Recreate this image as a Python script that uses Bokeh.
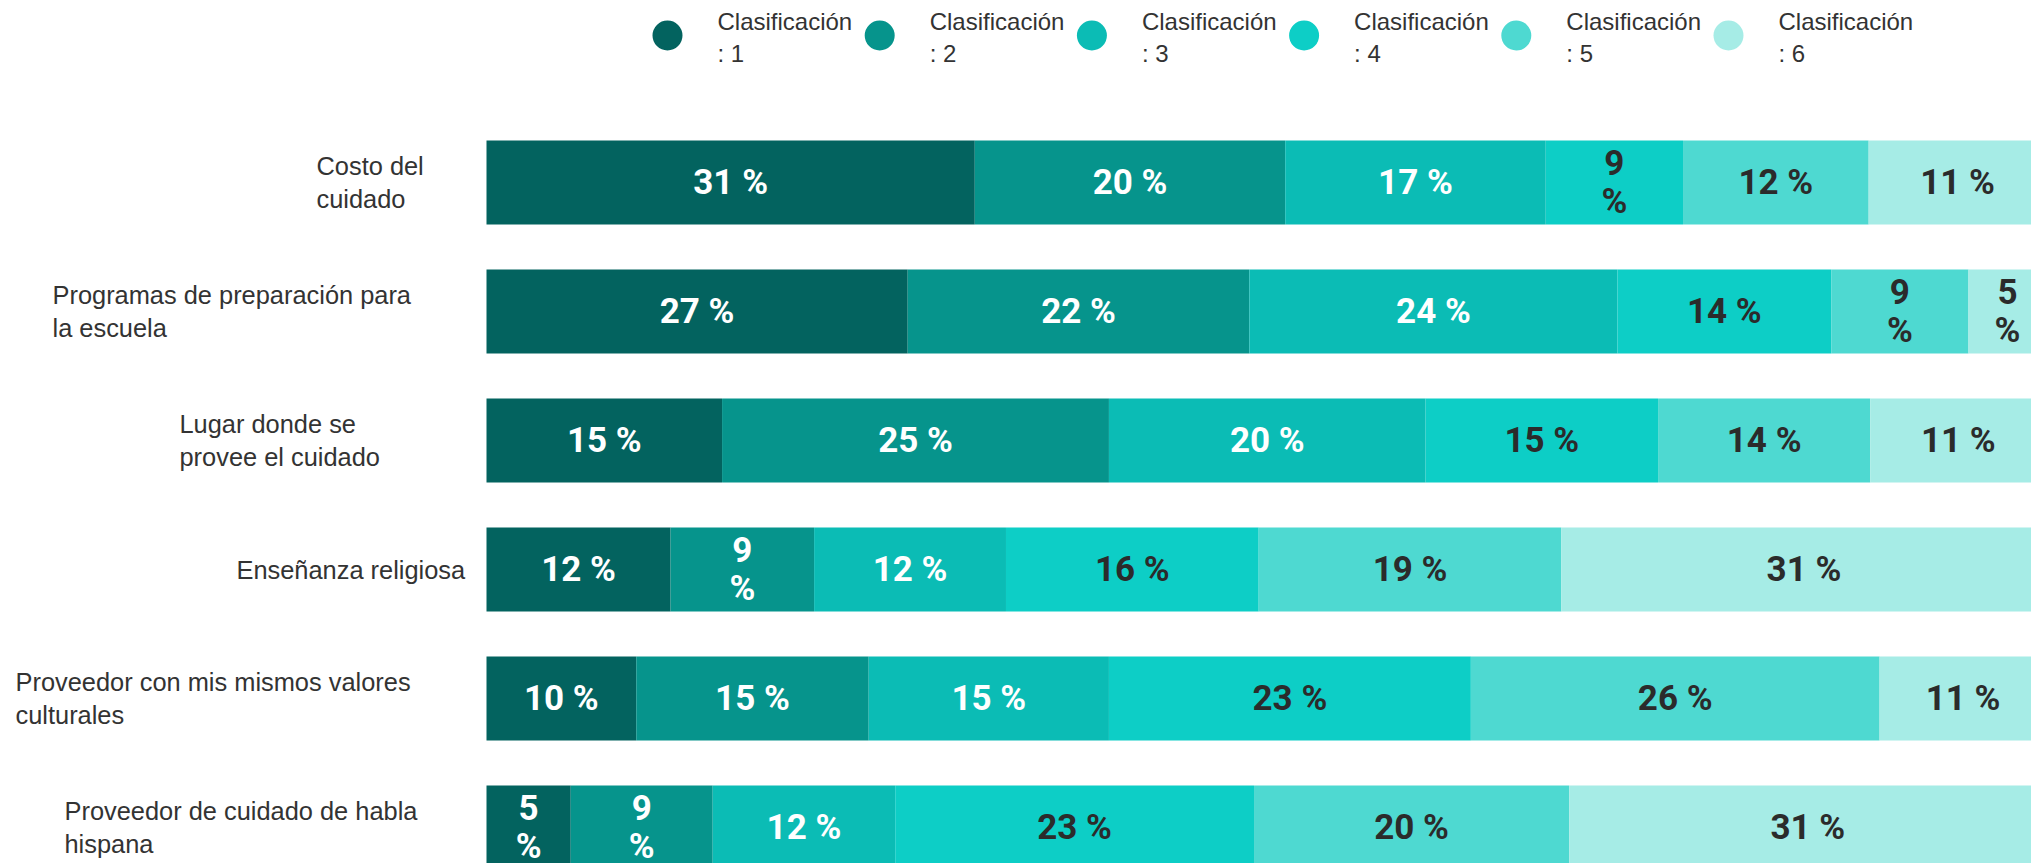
from bokeh.plotting import figure
from bokeh.models import ColumnDataSource, Range1d
from bokeh.layouts import column
from bokeh.embed import file_html
from bokeh.resources import INLINE
from bokeh.core.properties import value

# ---------------- data ----------------
categories = [
    "Costo del\ncuidado",
    "Programas de preparación para\nla escuela",
    "Lugar donde se\nprovee el cuidado",
    "Enseñanza religiosa",
    "Proveedor con mis mismos valores\nculturales",
    "Proveedor de cuidado de habla\nhispana",
]
series_names = ["Clasificación: 1", "Clasificación: 2", "Clasificación: 3",
                "Clasificación: 4", "Clasificación: 5", "Clasificación: 6"]
rank_1 = [31.3, 27.0, 15.1, 11.8, 9.6, 5.4]
rank_2 = [19.9, 21.9, 24.8, 9.2, 14.9, 9.1]
rank_3 = [16.7, 23.6, 20.3, 12.3, 15.4, 11.7]
rank_4 = [8.8, 13.7, 14.9, 16.2, 23.2, 23.0]
rank_5 = [11.9, 8.8, 13.6, 19.4, 26.2, 20.2]
rank_6 = [11.4, 5.0, 11.3, 31.1, 10.7, 30.6]

# ---------------- style / layout ----------------
colors = ["#03635F", "#06948C", "#0BBCB5", "#0DCEC6", "#4ED9D1", "#A6ECE6"]
label_colors = ["#ffffff", "#ffffff", "#ffffff", "#2b2b2b", "#2b2b2b", "#2b2b2b"]
cat_label_offsets = [-170, -434, -307, -250, -471, -422]   # screen px from bar start
W = 2031
TOTAL_H = 863
LEG_H = 108
MAIN_H = TOTAL_H - LEG_H
PX_PER_PCT = 15.6
BAR_START_PX = 486
PITCH_PX = 129
FIRST_CENTER_PX = 74

series = [rank_1, rank_2, rank_3, rank_4, rank_5, rank_6]
keys = ["r1", "r2", "r3", "r4", "r5", "r6"]
ypos = list(range(len(categories)))

# ---------------- legend figure ----------------
leg = figure(width=W, height=LEG_H, output_backend="svg", toolbar_location=None,
             x_range=Range1d(0, W), y_range=Range1d(LEG_H, 0),
             x_axis_location=None, y_axis_location=None, min_border=0)
leg.outline_line_color = None
leg.xgrid.visible = False
leg.ygrid.visible = False
step = 212.2
lx = [667 + i * step for i in range(len(series_names))]
leg_src = ColumnDataSource(dict(
    x=lx, y=[35] * len(lx), tx=[v + 50 for v in lx], ty=[7] * len(lx),
    c=colors, t=[n.replace(": ", "\n: ") for n in series_names]))
leg.scatter(x="x", y="y", size=30, marker="circle", fill_color="c",
            line_color=None, source=leg_src)
leg.text(x="tx", y="ty", text="t", source=leg_src, text_font=value("Liberation Sans"),
         text_font_size="24px", text_color="#333333", text_baseline="top",
         text_align="left", text_line_height=1.22)

# ---------------- main figure ----------------
x0 = -BAR_START_PX / PX_PER_PCT
x1 = (W - BAR_START_PX) / PX_PER_PCT
ytop = -FIRST_CENTER_PX / PITCH_PX
ybot = ytop + MAIN_H / PITCH_PX
p = figure(width=W, height=MAIN_H, output_backend="svg", toolbar_location=None,
           x_range=Range1d(x0, x1), y_range=Range1d(ybot, ytop),
           x_axis_location=None, y_axis_location=None, min_border=0)
p.outline_line_color = None
p.xgrid.visible = False
p.ygrid.visible = False

data = dict(y=ypos)
for k, s in zip(keys, series):
    data[k] = s
src = ColumnDataSource(data)
p.hbar_stack(keys, y="y", height=84 / PITCH_PX, color=colors, source=src, line_color=None)

# value labels
lab_x, lab_y, lab_t, lab_c = [], [], [], []
for i in range(len(categories)):
    left = 0.0
    for j, s in enumerate(series):
        v = s[i]
        n = int(v + 0.5)
        txt = f"{n}\n%" if n < 10 else f"{n} %"
        lab_x.append(left + v / 2)
        lab_y.append(ypos[i])
        lab_t.append(txt)
        lab_c.append(label_colors[j])
        left += v
lab_src = ColumnDataSource(dict(x=lab_x, y=lab_y, t=lab_t, c=lab_c))
p.text(x="x", y="y", text="t", text_color="c", source=lab_src,
       text_font=value("Roboto"), text_font_style="bold",
       text_font_size="35px", text_align="center", text_baseline="middle",
       text_line_height=0.95)

# category labels
cat_src = ColumnDataSource(dict(x=[0] * len(categories), y=ypos, t=categories,
                                xo=cat_label_offsets))
p.text(x="x", y="y", text="t", x_offset="xo", source=cat_src,
       text_font=value("Liberation Sans"), text_font_size="25.4px",
       text_color="#333333", text_align="left", text_baseline="middle",
       text_line_height=1.15)

layout = column(leg, p, spacing=0)
open("out.html", "w").write(file_html(layout, INLINE))
